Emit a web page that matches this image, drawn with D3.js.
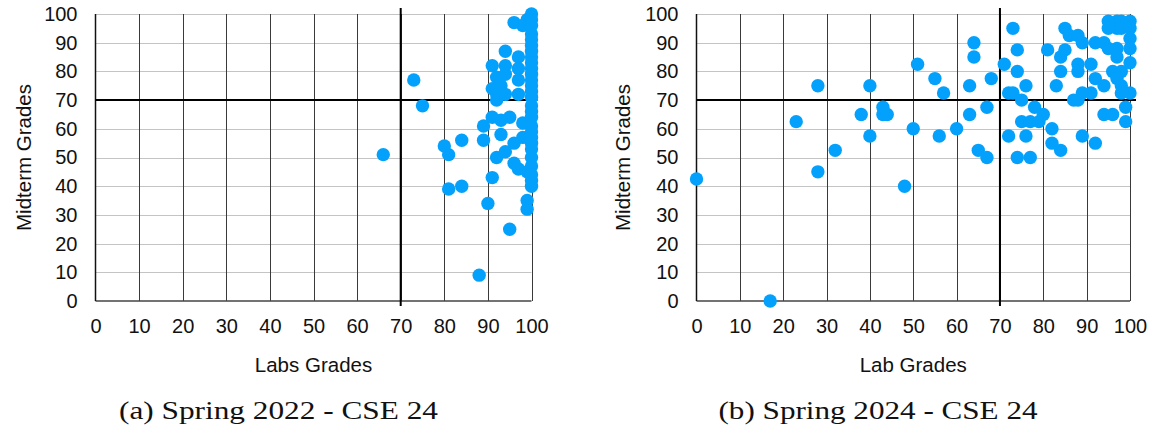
<!DOCTYPE html>
<html>
<head>
<meta charset="utf-8">
<script src="https://cdn.jsdelivr.net/npm/d3@7"></script>
<style>
  body { margin: 0; background: #fff; }
  svg { display: block; }
</style>
</head>
<body>
<svg id="canvas" width="1155" height="429"></svg>
<script>
// grade values
const labs2022 = [66,73,75,80,81,81,84,84,88,89,89,90,91,91,91,91,92,92,92,92,93,93,93,94,94,94,94,94,95,95,96,96,96,97,97,97,97,97,98,98,99,99,99,99,98,
  100,100,100,100,100,100,100,100,100,100,100,100,100,100,100,100,100,100,100,100,100,100,100,100,100,100,100,100];
const midterm2022 = [51,77,68,54,51,39,40,56,9,61,56,34,43,64,82,74,70,72,78,50,75,58,63,87,82,79,72,52,64,25,97,55,48,85,81,77,72,46,57,62,45,35,32,98,96,
  100,98,96,93,91,89,87,85,83,81,79,77,75,73,71,68,66,64,61,59,57,55,53,50,47,44,42,40];

const labs2024 = [0,17,23,28,28,32,38,40,40,43,43,44,48,50,51,55,56,57,60,63,63,64,64,65,67,67,68,71,72,72,73,73,74,74,74,75,75,76,76,77,77,78,79,80,81,82,82,83,
  84,84,84,85,85,86,87,88,88,88,88,89,89,89,91,91,92,92,92,94,94,94,95,95,95,96,97,97,97,97,96,97,98,98,98,98,98,99,99,100,100,100,100,100,100];
const midterm2024 = [42.5,0,62.5,75,45,52.5,65,75,57.5,67.5,65,65,40,60,82.5,77.5,57.5,72.5,60,75,65,90,85,52.5,67.5,50,77.5,82.5,57.5,72.5,72.5,95,87.5,80,50,70,62.5,75,57.5,62.5,50,67.5,62.5,65,87.5,60,55,75,
  85,80,52.5,95,87.5,92.5,70,92.5,82.5,80,70,90,72.5,57.5,82.5,72.5,77.5,55,90,90,75,65,97.5,95,88,65,97.5,95,88,85,80,77.5,97.5,95,80,75,72.5,67.5,62.5,97.5,95,91.5,88,83,72.5,62];

const tickValues = [0,10,20,30,40,50,60,70,80,90,100];
const passLine = 70;

const panels = [
  { labs: labs2022, mids: midterm2022, xTitle: "Labs Grades", caption: "(a) Spring 2022 - CSE 24",
    x0: 95.5, x1: 531.5, yTitleX: 23.5, capX: 278.5 },
  { labs: labs2024, mids: midterm2024, xTitle: "Lab Grades", caption: "(b) Spring 2024 - CSE 24",
    x0: 696.5, x1: 1130, yTitleX: 622, capX: 878 }
];

const svg = d3.select("#canvas");
const sans = "'Liberation Sans', Helvetica, Arial, sans-serif";
const plotTop = 14, plotBottom = 301;

const y = d3.scaleLinear().domain([0, 100]).range([plotBottom, plotTop]);

panels.forEach(function(p) {
  const x = d3.scaleLinear().domain([0, 100]).range([p.x0, p.x1]);
  const g = svg.append("g");

  // horizontal grid (light)
  g.selectAll("line.hgrid")
    .data(tickValues.filter(d => d > 0))
    .enter().append("line")
    .attr("class", "hgrid")
    .attr("x1", x(0)).attr("x2", x(100))
    .attr("y1", d => Math.round(y(d)) + 0.5).attr("y2", d => Math.round(y(d)) + 0.5)
    .attr("stroke", "#c4c4c4").attr("stroke-width", 1.2);

  // vertical grid (dark)
  g.selectAll("line.vgrid")
    .data(tickValues.filter(d => d > 0))
    .enter().append("line")
    .attr("class", "vgrid")
    .attr("x1", d => Math.round(x(d)) + 0.5).attr("x2", d => Math.round(x(d)) + 0.5)
    .attr("y1", y(100)).attr("y2", y(0))
    .attr("stroke", "#3a3a3a").attr("stroke-width", 1);

  // axis lines
  g.append("line")
    .attr("x1", x(0)).attr("x2", x(100)).attr("y1", y(0)).attr("y2", y(0))
    .attr("stroke", "#444").attr("stroke-width", 1.5);
  g.append("line")
    .attr("x1", x(0)).attr("x2", x(0)).attr("y1", y(100)).attr("y2", y(0))
    .attr("stroke", "#111").attr("stroke-width", 1.5);

  // 70/70 reference lines
  g.append("line")
    .attr("x1", x(0)).attr("x2", x(100) + 6).attr("y1", y(passLine)).attr("y2", y(passLine))
    .attr("stroke", "#000").attr("stroke-width", 2);
  g.append("line")
    .attr("x1", x(passLine)).attr("x2", x(passLine)).attr("y1", y(100) - 6).attr("y2", y(0) + 5)
    .attr("stroke", "#000").attr("stroke-width", 2);

  // points
  g.selectAll("circle")
    .data(p.labs.map((d, i) => [d, p.mids[i]]))
    .enter().append("circle")
    .attr("cx", d => x(d[0]))
    .attr("cy", d => y(d[1]))
    .attr("r", 6.7)
    .attr("fill", "#03a1fc");

  // tick labels through axes
  const xAxis = g.append("g")
    .attr("transform", "translate(0," + y(0) + ")")
    .call(d3.axisBottom(x).tickValues(tickValues).tickSize(0).tickPadding(18));
  const yAxis = g.append("g")
    .attr("transform", "translate(" + (x(0) - 18) + ",0)")
    .call(d3.axisLeft(y).tickValues(tickValues).tickSize(0).tickPadding(0));
  [xAxis, yAxis].forEach(function(a) {
    a.select(".domain").remove();
    a.selectAll("text")
      .attr("font-family", sans).attr("font-size", 20).attr("fill", "#111");
  });

  // axis titles
  g.append("text")
    .attr("x", (p.x0 + p.x1) / 2).attr("y", 372)
    .attr("text-anchor", "middle")
    .attr("font-family", sans).attr("font-size", 20.5).attr("fill", "#111")
    .text(p.xTitle);
  g.append("text")
    .attr("transform", "translate(" + p.yTitleX + "," + (plotTop + plotBottom) / 2 + ") rotate(-90)")
    .attr("text-anchor", "middle").attr("dominant-baseline", "central")
    .attr("font-family", sans).attr("font-size", 20.5).attr("fill", "#111")
    .text("Midterm Grades");

  // sub-caption
  g.append("text")
    .attr("x", p.capX).attr("y", 419)
    .attr("text-anchor", "middle")
    .attr("font-family", "'Liberation Serif', 'Times New Roman', serif")
    .attr("font-size", 25).attr("fill", "#111")
    .attr("textLength", 319).attr("lengthAdjust", "spacingAndGlyphs")
    .text(p.caption);
});
</script>
</body>
</html>
